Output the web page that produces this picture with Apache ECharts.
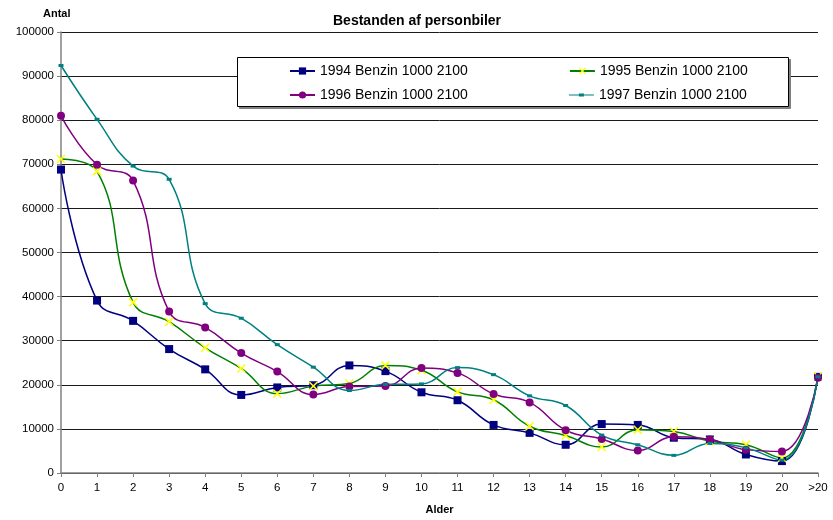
<!DOCTYPE html>
<html>
<head>
<meta charset="utf-8">
<script src="https://cdn.jsdelivr.net/npm/echarts@6/dist/echarts.min.js"></script>
<style>
  html, body { margin: 0; padding: 0; background: #fff; }
  #chart { width: 833px; height: 520px; }
</style>
</head>
<body>
<div id="chart"></div>
<script>
// Vehicle age categories (years)
const ages = ['0','1','2','3','4','5','6','7','8','9','10','11','12','13','14','15','16','17','18','19','20','>20'];

// Stock of petrol cars 1000-2100 cc by age, per year
const cars1994 = [68800, 39100, 34500, 28100, 23500, 17700, 19400, 19900, 24400, 23100, 18300, 16500, 10900, 9100, 6400, 11100, 10900, 8000, 7600, 4200, 2700, 21800];
const cars1995 = [71200, 68400, 38700, 34300, 28400, 23700, 18000, 19700, 20300, 24400, 23300, 18400, 16600, 10600, 8500, 5900, 9800, 9400, 7200, 6400, 3400, 21900];
const cars1996 = [81000, 69900, 66300, 36600, 33000, 27200, 23000, 17800, 19600, 19700, 23800, 22700, 17900, 16000, 9700, 7700, 5100, 8200, 7600, 5300, 4900, 21600];
const cars1997 = [92400, 80200, 69600, 66600, 38400, 35100, 29100, 24000, 18700, 20100, 20200, 23900, 22300, 17500, 15300, 8600, 6400, 4000, 6700, 5700, 2900, 21800];

const seriesNames = ['1994 Benzin 1000 2100', '1995 Benzin 1000 2100', '1996 Benzin 1000 2100', '1997 Benzin 1000 2100'];

const FONT = '"Liberation Sans", Arial, Helvetica, sans-serif';
const crossPath = 'path://M0,1.2 L1.2,0 L5,3.8 L8.8,0 L10,1.2 L6.2,5 L10,8.8 L8.8,10 L5,6.2 L1.2,10 L0,8.8 L3.8,5 Z';
// legend icon for the 1997 series: a line with a small dash marker in the middle
const dashLineIcon = 'path://M0,4.4 L25,4.4 L25,5.6 L0,5.6 Z M10,3.4 L15,3.4 L15,6.6 L10,6.6 Z';

const chart = echarts.init(document.getElementById('chart'), null, { renderer: 'canvas' });

function lineSeries(name, data, color, symbol, symbolSize, symbolColor) {
  return {
    name: name,
    type: 'line',
    data: data,
    smooth: 0.45,
    symbol: symbol,
    symbolSize: symbolSize,
    showAllSymbol: true,
    lineStyle: { color: color, width: 1.5 },
    itemStyle: { color: symbolColor || color, borderWidth: 0 },
    emphasis: { disabled: true },
    animation: false
  };
}

const legendText = { fontFamily: FONT, fontSize: 14, color: '#000', lineHeight: 16 };

chart.setOption({
  backgroundColor: '#fff',
  animation: false,
  textStyle: { fontFamily: FONT },
  title: {
    text: 'Bestanden af personbiler',
    left: 328,
    top: 9,
    textStyle: { fontFamily: FONT, fontSize: 14, fontWeight: 'bold', color: '#000' }
  },
  graphic: [
    {
      type: 'rect',
      z: 5,
      shape: { x: 239.5, y: 59.5, width: 551, height: 49 },
      style: { fill: '#808080', stroke: '#808080', lineWidth: 1 }
    },
    {
      type: 'rect',
      z: 6,
      shape: { x: 237.5, y: 57.5, width: 551, height: 49 },
      style: { fill: '#fff', stroke: '#000', lineWidth: 1 }
    },
    {
      type: 'text', z: 5, left: 43, top: 8,
      style: { text: 'Antal', fill: '#000', font: 'bold 11px ' + FONT }
    }
  ],
  legend: [
    {
      data: [seriesNames[0], seriesNames[1]],
      left: 289, top: 63, padding: 0, z: 10,
      itemWidth: 25, itemHeight: 9, itemGap: 101,
      textStyle: legendText,
      selectedMode: false
    },
    {
      data: [seriesNames[2], { name: seriesNames[3], icon: dashLineIcon }],
      left: 289, top: 87, padding: 0, z: 10,
      itemWidth: 25, itemHeight: 9, itemGap: 101,
      textStyle: legendText,
      selectedMode: false
    }
  ],
  grid: { left: 61, right: 15, top: 32, bottom: 43, containLabel: false },
  xAxis: {
    type: 'category',
    data: ages,
    boundaryGap: false,
    name: 'Alder',
    nameLocation: 'middle',
    nameGap: 31,
    nameTextStyle: { fontFamily: FONT, fontSize: 11, fontWeight: 'bold', color: '#000' },
    axisLine: { lineStyle: { color: '#808080', width: 1.5 } },
    axisTick: { show: true, alignWithLabel: true, length: 4, lineStyle: { color: '#808080' } },
    axisLabel: { fontFamily: FONT, fontSize: 11.5, color: '#000', margin: 9, interval: 0 },
    splitLine: { show: false }
  },
  yAxis: {
    type: 'value',
    min: 0,
    max: 100000,
    interval: 10000,
    axisLine: { show: true, lineStyle: { color: '#808080', width: 1.5 } },
    axisTick: { show: true, length: 4, lineStyle: { color: '#808080' } },
    axisLabel: { fontFamily: FONT, fontSize: 11.5, color: '#000', margin: 7, formatter: function (v) { return String(v); } },
    splitLine: { show: true, lineStyle: { color: '#1a1a1a', width: 1 } }
  },
  series: [
    lineSeries(seriesNames[0], cars1994, '#000080', 'rect', 8),
    lineSeries(seriesNames[1], cars1995, '#008000', crossPath, 9, '#ffff00'),
    lineSeries(seriesNames[2], cars1996, '#800080', 'circle', 8),
    lineSeries(seriesNames[3], cars1997, '#008080', 'rect', [5, 3])
  ]
});
</script>
</body>
</html>
